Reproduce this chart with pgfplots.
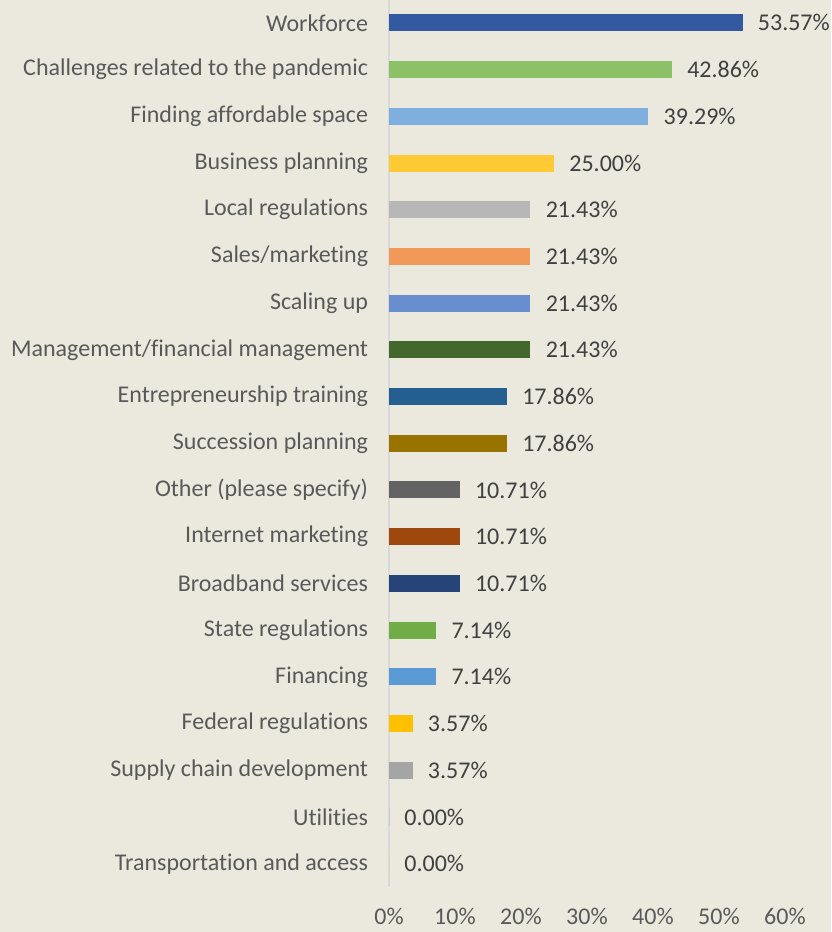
\documentclass[border=0pt]{standalone}
\usepackage{pgfplots}
\pgfplotsset{compat=1.18}
\usepackage{fontspec}
\setmainfont{Carlito}[Ligatures={NoCommon}]

\definecolor{bg}{HTML}{EBE9DD}
\definecolor{axisgray}{HTML}{D9D9D9}
\definecolor{labgray}{HTML}{595959}
\definecolor{valgray}{HTML}{404040}
\definecolor{c1}{HTML}{3359A0}
\definecolor{c2}{HTML}{8DC168}
\definecolor{c3}{HTML}{7EAFDE}
\definecolor{c4}{HTML}{FFCA33}
\definecolor{c5}{HTML}{B7B7B7}
\definecolor{c6}{HTML}{F2995A}
\definecolor{c7}{HTML}{698ED0}
\definecolor{c8}{HTML}{43682B}
\definecolor{c9}{HTML}{255E91}
\definecolor{c10}{HTML}{997300}
\definecolor{c11}{HTML}{636363}
\definecolor{c12}{HTML}{9E480E}
\definecolor{c13}{HTML}{264478}
\definecolor{c14}{HTML}{70AD47}
\definecolor{c15}{HTML}{5B9BD5}
\definecolor{c16}{HTML}{FFC000}
\definecolor{c17}{HTML}{A5A5A5}

\begin{document}
\begin{tikzpicture}
% page = 831 x 932 px at 0.5pt per px, axis box corner at the origin
\path[use as bounding box, fill=bg] (-194.5pt,-22.5pt) rectangle (221pt,443.5pt);
\begin{axis}[
  at={(0,0)}, anchor=south west,
  scale only axis, width=198pt, height=443.5pt,
  xbar, bar width=8.5pt, bar shift=0pt,
  xmin=0, xmax=60, ymin=-0.49, ymax=18.5, y dir=reverse,
  axis lines*=left,
  x axis line style={draw=none},
  y axis line style={draw=axisgray, line width=1pt},
  xtick={0,10,...,60}, xticklabel={\pgfmathprintnumber{\tick}\%},
  xtick style={draw=none}, ytick style={draw=none},
  ytick={0,...,18},
  yticklabels={Workforce, Challenges related to the pandemic, Finding affordable space,
    Business planning, Local regulations, Sales/marketing, Scaling up,
    Management/financial management, Entrepreneurship training, Succession planning,
    Other (please specify), Internet marketing, Broadband services, State regulations,
    Financing, Federal regulations, Supply chain development, Utilities,
    Transportation and access},
  /pgf/number format/assume math mode=true,
  tick label style={font=\fontsize{12}{14}\selectfont, text=labgray},
  yticklabel style={anchor=east, inner sep=0pt, xshift=-6pt},
  xticklabel style={anchor=north, inner sep=0pt, yshift=-10.5pt},
  every axis plot/.append style={draw=none},
  nodes near coords={\pgfmathprintnumber[fixed,fixed zerofill,precision=2]{\pgfplotspointmeta}\%},
  nodes near coords style={anchor=west, inner sep=0pt, xshift=7.5pt,
    font=\fontsize{12}{14}\selectfont, text=valgray},
]
\addplot[fill=c1] coordinates {(53.57,0)};
\addplot[fill=c2] coordinates {(42.86,1)};
\addplot[fill=c3] coordinates {(39.29,2)};
\addplot[fill=c4] coordinates {(25.00,3)};
\addplot[fill=c5] coordinates {(21.43,4)};
\addplot[fill=c6] coordinates {(21.43,5)};
\addplot[fill=c7] coordinates {(21.43,6)};
\addplot[fill=c8] coordinates {(21.43,7)};
\addplot[fill=c9] coordinates {(17.86,8)};
\addplot[fill=c10] coordinates {(17.86,9)};
\addplot[fill=c11] coordinates {(10.71,10)};
\addplot[fill=c12] coordinates {(10.71,11)};
\addplot[fill=c13] coordinates {(10.71,12)};
\addplot[fill=c14] coordinates {(7.14,13)};
\addplot[fill=c15] coordinates {(7.14,14)};
\addplot[fill=c16] coordinates {(3.57,15)};
\addplot[fill=c17] coordinates {(3.57,16)};
\addplot[fill=c1] coordinates {(0,17)};
\addplot[fill=c2] coordinates {(0,18)};
\end{axis}
\end{tikzpicture}
\end{document}
